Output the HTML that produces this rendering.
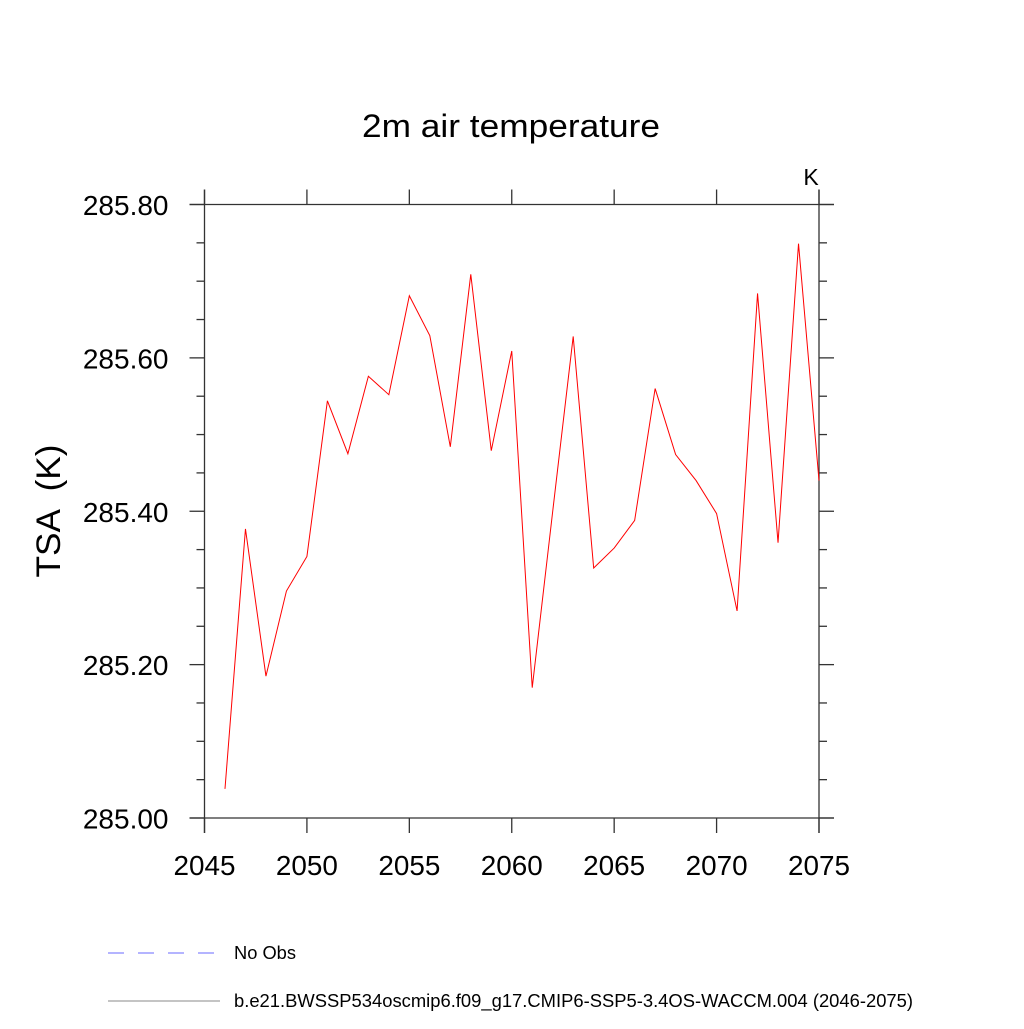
<!DOCTYPE html>
<html><head><meta charset="utf-8"><style>
html,body{margin:0;padding:0;background:#fff;}
svg text{font-family:"Liberation Sans",sans-serif;fill:#000;}
</style></head><body>
<svg id="chart" width="1024" height="1024" xmlns="http://www.w3.org/2000/svg">
<text x="511" y="137" font-size="32" text-anchor="middle" textLength="298" lengthAdjust="spacingAndGlyphs">2m air temperature</text>
<text x="811" y="185" font-size="23" text-anchor="middle">K</text>
<text transform="translate(60,511) rotate(-90)" font-size="34" text-anchor="middle" textLength="133" lengthAdjust="spacingAndGlyphs" style="white-space:pre">TSA  (K)</text>
<g id="axes"></g>
<g id="series"></g>
<g>
<line x1="108" y1="953" x2="216" y2="953" stroke="#6a6aff" stroke-width="1" stroke-dasharray="16,14"/>
<text x="234" y="959" font-size="18" textLength="62" lengthAdjust="spacingAndGlyphs">No Obs</text>
<line x1="108" y1="1001" x2="220" y2="1001" stroke="#888" stroke-width="1"/>
<text x="234" y="1007" font-size="18" textLength="679" lengthAdjust="spacingAndGlyphs">b.e21.BWSSP534oscmip6.f09_g17.CMIP6-SSP5-3.4OS-WACCM.004 (2046-2075)</text>
</g>
</svg>
<script>
const years=[2046,2047,2048,2049,2050,2051,2052,2053,2054,2055,2056,2057,2058,2059,2060,2061,2062,2063,2064,2065,2066,2067,2068,2069,2070,2071,2072,2073,2074,2075];
const tsa=[285.038,285.377,285.185,285.296,285.341,285.544,285.475,285.576,285.552,285.681,285.629,285.484,285.709,285.479,285.609,285.170,285.400,285.628,285.326,285.352,285.388,285.560,285.474,285.440,285.397,285.270,285.684,285.359,285.749,285.440];
const xTicks=[2045,2050,2055,2060,2065,2070,2075];
const yTicks=[285.0,285.2,285.4,285.6,285.8];
const yTickLabels=["285.00","285.20","285.40","285.60","285.80"];
const X0=204.5,X1=819,Y0=818,Y1=204.5;
const xs=v=>X0+(v-2045)/30*(X1-X0);
const ys=v=>Y0-(v-285)/0.8*(Y0-Y1);
const NS="http://www.w3.org/2000/svg";
const ax=document.getElementById('axes');
function ln(x1,y1,x2,y2,name,c){const l=document.createElementNS(NS,'line');l.setAttribute('x1',x1);l.setAttribute('y1',y1);l.setAttribute('x2',x2);l.setAttribute('y2',y2);l.setAttribute('stroke',c||'#333');l.setAttribute('stroke-width','1.3');


ax.appendChild(l);return l;}
function tx(x,y,s,name,anchor,w){const t=document.createElementNS(NS,'text');t.setAttribute('x',x);t.setAttribute('y',y);t.setAttribute('font-size','28');t.setAttribute('text-anchor',anchor);if(w){t.setAttribute('textLength',w);t.setAttribute('lengthAdjust','spacingAndGlyphs');}t.textContent=s;


ax.appendChild(t);}
ln(X0-15,Y1,X1+15,Y1,'plot-frame-top');
ln(X0-15,Y0,X1+15,Y0,'plot-frame-bottom');
ln(X0,Y1-15,X0,Y0+15,'plot-frame-left');
ln(X1,Y1-15,X1,Y0+15,'plot-frame-right');
xTicks.forEach(v=>{const x=xs(v);ln(x,Y0,x,Y0+15,'x-tick');ln(x,Y1,x,Y1-15,'x-tick-top');tx(x,875,String(v),'x-tick-label','middle',62);});
yTicks.forEach((v,i)=>{const y=ys(v);ln(X0-15,y,X0,y,'y-tick');ln(X1,y,X1+15,y,'y-tick-right');tx(X0-36,y+10.5,yTickLabels[i],'y-tick-label','end',0);});
for(let v=285.05;v<285.8;v+=0.05){if(Math.abs((v-285)/0.2-Math.round((v-285)/0.2))<0.01)continue;const y=ys(v);ln(X0-8,y,X0,y,'y-minor-tick');ln(X1,y,X1+8,y,'y-minor-tick-right');}
const p=document.createElementNS(NS,'polyline');
p.setAttribute('points',years.map((y,i)=>xs(y)+','+ys(tsa[i])).join(' '));
p.setAttribute('fill','none');p.setAttribute('stroke','#ff0000');p.setAttribute('stroke-width','1');


document.getElementById('series').appendChild(p);
</script>
</body></html>
